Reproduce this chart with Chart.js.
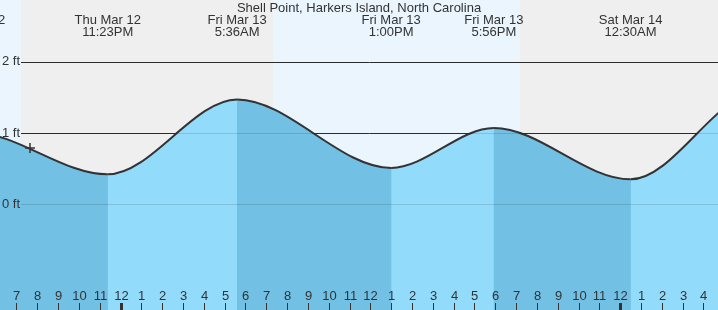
<!DOCTYPE html>
<html>
<head>
<meta charset="utf-8">
<script src="https://cdn.jsdelivr.net/npm/chart.js@4/dist/chart.umd.min.js"></script>
<style>
  html, body { margin: 0; padding: 0; background: #fff; }
  #wrap { width: 718px; height: 310px; position: relative; }
</style>
</head>
<body>
<div id="wrap"><canvas id="tideChart"></canvas></div>
<script>
const stationName = 'Shell Point, Harkers Island, North Carolina';

// tide highs and lows (the outer ones sit outside the window and only shape the curve)
const tideDays = ['Thu Mar 12', 'Thu Mar 12', 'Thu Mar 12', 'Fri Mar 13', 'Fri Mar 13', 'Fri Mar 13', 'Sat Mar 14', 'Sat Mar 14', 'Sat Mar 14'];
const tideTimes = ['10:45AM', '4:52PM', '11:23PM', '5:36AM', '1:00PM', '5:56PM', '12:30AM', '6:42AM', '1:40PM'];
const tideHeights = [0.48, 1.01, 0.42, 1.47, 0.51, 1.07, 0.35, 1.58, 0.45];

// sunset, sunrise, sunset
const sunDays = ['Thu Mar 12', 'Fri Mar 13', 'Fri Mar 13'];
const sunTimes = ['7:13PM', '7:19AM', '7:12PM'];

// current level marker
const nowDay = 'Thu Mar 12';
const nowTime = '7:39PM';
const nowHeight = 0.79;

const ftTicks = [0, 1, 2];
const dayNames = ['Thu Mar 12', 'Fri Mar 13', 'Sat Mar 14'];

const darkWater = '#72c0e4';
const lightWater = '#93dbfa';
const dayColor = '#eaf5fe';
const nightColor = '#efefef';
const textColor = '#333';
const font = '13px "Liberation Sans", Arial, sans-serif';

// hours from Fri midnight
const toHours = (day, time) => {
    const m = time.match(/(\d+):(\d+)(AM|PM)/);
    let h = Number(m[1]) % 12 + Number(m[2]) / 60;
    if (m[3] === 'PM') h += 12;
    return (dayNames.indexOf(day) - 1) * 24 + h;
};

const tideHours = tideDays.map((d, i) => toHours(d, tideTimes[i]));
const sunHours = sunDays.map((d, i) => toHours(d, sunTimes[i]));
const nowHour = toHours(nowDay, nowTime);
const tidePoints = tideHours.map((h, i) => ({x: h, y: tideHeights[i]}));

const tidePlugin = {
    id: 'tideDecor',
    beforeDatasetsDraw(chart) {
        const {ctx, chartArea: a, scales: {x, y}} = chart;
        ctx.save();
        ctx.fillStyle = nightColor;
        ctx.fillRect(a.left, a.top, a.right - a.left, a.bottom - a.top);
        // daylight bands: window start -> sunset, sunrise -> sunset
        ctx.fillStyle = dayColor;
        const edges = [x.min].concat(sunHours);
        for (let i = 0; i + 1 < edges.length; i += 2) {
            const x0 = Math.round(x.getPixelForValue(edges[i]));
            const x1 = Math.round(x.getPixelForValue(edges[i + 1]));
            ctx.fillRect(x0, a.top, x1 - x0, a.bottom - a.top);
        }
        ctx.strokeStyle = textColor;
        ctx.lineWidth = 1;
        ftTicks.forEach(v => {
            const py = Math.round(y.getPixelForValue(v)) + 0.5;
            ctx.beginPath();
            ctx.moveTo(21, py);
            ctx.lineTo(a.right, py);
            ctx.stroke();
        });
        ctx.restore();
    },
    afterDatasetsDraw(chart) {
        const {ctx, chartArea: a, scales: {x, y}} = chart;
        ctx.save();
        // grid seen through the water
        ctx.strokeStyle = 'rgba(0,0,0,0.12)';
        ctx.lineWidth = 1;
        ftTicks.forEach(v => {
            const py = Math.round(y.getPixelForValue(v)) + 0.5;
            ctx.beginPath();
            ctx.moveTo(21, py);
            ctx.lineTo(a.right, py);
            ctx.stroke();
        });

        ctx.font = font;
        ctx.fillStyle = textColor;
        ctx.textBaseline = 'middle';
        ctx.textAlign = 'left';
        ftTicks.forEach(v => {
            ctx.fillText(v + ' ft', 2, y.getPixelForValue(v));
        });

        // hour ticks along the bottom
        ctx.textAlign = 'center';
        ctx.strokeStyle = textColor;
        for (let h = Math.ceil(x.min); h <= Math.floor(x.max); h++) {
            const px = Math.round(x.getPixelForValue(h));
            const hr = ((h % 12) + 12) % 12 || 12;
            ctx.fillText(String(hr), px + 0.5, 296);
            const midnight = ((h % 24) + 24) % 24 === 0;
            if (midnight) {
                ctx.fillRect(px - 1, 303, 3, a.bottom - 303);
            } else {
                ctx.beginPath();
                ctx.moveTo(px + 0.5, 303);
                ctx.lineTo(px + 0.5, a.bottom);
                ctx.stroke();
            }
        }

        // high / low labels
        tideHours.forEach((h, i) => {
            const px = x.getPixelForValue(h);
            ctx.fillText(tideDays[i], px, 20);
            ctx.fillText(tideTimes[i], px, 32);
        });
        ctx.fillText(stationName, (a.left + a.right) / 2, 8);
        ctx.restore();
    }
};

new Chart(document.getElementById('tideChart'), {
    type: 'line',
    data: {
        datasets: [{
            // rising water, painted over the falling-water base
            data: tidePoints,
            cubicInterpolationMode: 'monotone',
            borderColor: '#333',
            borderWidth: 2,
            pointRadius: 0,
            fill: 'start',
            backgroundColor: lightWater,
            segment: {
                backgroundColor: c => c.p0.parsed.y > c.p1.parsed.y ? 'rgba(0,0,0,0)' : lightWater
            },
            order: 1
        }, {
            data: tidePoints,
            cubicInterpolationMode: 'monotone',
            borderWidth: 0,
            borderColor: 'rgba(0,0,0,0)',
            pointRadius: 0,
            fill: 'start',
            backgroundColor: darkWater,
            order: 2
        }, {
            data: [{x: nowHour, y: nowHeight}],
            showLine: false,
            pointStyle: 'cross',
            pointRadius: 5,
            borderColor: '#333',
            borderWidth: 1.5,
            fill: false,
            order: 0
        }]
    },
    options: {
        responsive: true,
        maintainAspectRatio: false,
        animation: false,
        devicePixelRatio: 1,
        layout: {padding: 0, autoPadding: false},
        scales: {
            x: {type: 'linear', display: false, min: -5.79, max: 28.70},
            y: {display: false, min: -1.482, max: 2.865}
        },
        plugins: {
            legend: {display: false},
            tooltip: {enabled: false}
        }
    },
    plugins: [tidePlugin]
});
</script>
</body>
</html>
